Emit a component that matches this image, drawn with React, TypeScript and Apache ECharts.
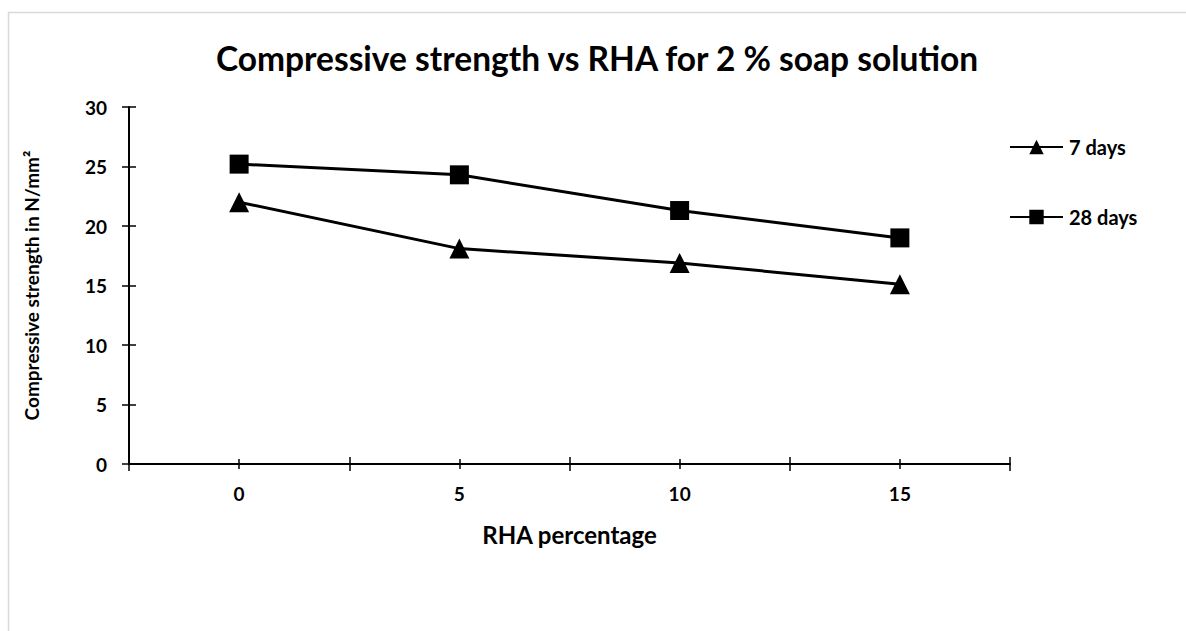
import React, { useEffect, useRef } from "react";
import * as echarts from "echarts";

// RHA replacement levels (%) and compressive strengths (N/mm²)
const rhaPercent = ["0", "5", "10", "15"];
const days7 = [22.0, 18.1, 16.9, 15.1];
const days28 = [25.2, 24.3, 21.3, 19.0];
const yTicks = { min: 0, max: 30, interval: 5 };

const FONT = "Lato, 'Open Sans', sans-serif";

export default function App() {
  const ref = useRef<HTMLDivElement>(null);

  useEffect(() => {
    if (!ref.current) return;
    const chart = echarts.init(ref.current, null, { renderer: "svg" });

    // extra tick-only axes so the ticks cross the axis line
    const hiddenX = (inside: boolean, len: number, align: boolean) => ({
      type: "category" as const,
      data: rhaPercent,
      position: "bottom" as const,
      axisLine: { show: false },
      axisLabel: { show: false },
      axisTick: {
        show: true,
        inside,
        length: len,
        alignWithLabel: align,
        lineStyle: { color: "#000", width: 1.5 },
      },
      splitLine: { show: false },
    });

    chart.setOption({
      animation: false,
      backgroundColor: "#fff",
      textStyle: { fontFamily: FONT },
      title: {
        text: "Compressive strength vs RHA for 2 % soap solution",
        left: 597,
        textAlign: "center",
        top: 41,
        padding: 0,
        textStyle: { fontFamily: FONT, fontWeight: "bold", fontSize: 33.5, color: "#000" },
      },
      graphic: [
        {
          type: "rect",
          shape: { x: 8.5, y: 12.5, width: 1200, height: 700 },
          style: { fill: "none", stroke: "#d9d9d9", lineWidth: 1.5 },
          silent: true,
        },
      ],
      legend: {
        orient: "vertical",
        left: 1009,
        top: 137,
        padding: 0,
        itemWidth: 53,
        itemHeight: 18,
        itemGap: 50,
        textStyle: {
          fontFamily: FONT,
          fontWeight: "bold",
          fontSize: 20,
          lineHeight: 20,
          color: "#000",
          padding: [0, 0, 0, 1],
        },
        data: ["7 days", "28 days"],
      },
      grid: { left: 129, right: 176, top: 107, bottom: 167, containLabel: false },
      xAxis: [
        {
          type: "category",
          data: rhaPercent,
          position: "bottom",
          name: "RHA percentage",
          nameLocation: "middle",
          nameGap: 58,
          nameTextStyle: { fontFamily: FONT, fontWeight: "bold", fontSize: 24, color: "#000" },
          axisLine: { show: true, lineStyle: { color: "#000", width: 2 } },
          axisTick: { show: true, length: 7, lineStyle: { color: "#000", width: 1.5 } },
          axisLabel: { margin: 20, fontFamily: FONT, fontWeight: "bold", fontSize: 19, color: "#000" },
          splitLine: { show: false },
        },
        hiddenX(true, 7, false),
        hiddenX(false, 5, true),
        hiddenX(true, 5, true),
      ],
      yAxis: [
        {
          type: "value",
          ...yTicks,
          name: "Compressive strength in N/mm²",
          nameLocation: "middle",
          nameGap: 88,
          nameTextStyle: { fontFamily: FONT, fontWeight: "bold", fontSize: 19, color: "#000" },
          axisLine: { show: true, lineStyle: { color: "#000", width: 2 } },
          axisTick: { show: true, length: 7, lineStyle: { color: "#000", width: 1.5 } },
          axisLabel: { margin: 22, fontFamily: FONT, fontWeight: "bold", fontSize: 19, color: "#000" },
          splitLine: { show: false },
        },
        {
          type: "value",
          ...yTicks,
          position: "left",
          axisLine: { show: false },
          axisTick: { show: true, inside: true, length: 7, lineStyle: { color: "#000", width: 1.5 } },
          axisLabel: { show: false },
          splitLine: { show: false },
        },
      ],
      series: [
        {
          name: "7 days",
          type: "line",
          data: days7,
          symbol: "triangle",
          symbolSize: 20,
          lineStyle: { color: "#000", width: 3 },
          itemStyle: { color: "#000" },
        },
        {
          name: "28 days",
          type: "line",
          data: days28,
          symbol: "rect",
          symbolSize: 19,
          lineStyle: { color: "#000", width: 3 },
          itemStyle: { color: "#000" },
        },
      ],
    });

    return () => chart.dispose();
  }, []);

  return (
    <div
      ref={ref}
      style={{ position: "absolute", left: 0, top: 0, width: 1186, height: 631 }}
    />
  );
}
